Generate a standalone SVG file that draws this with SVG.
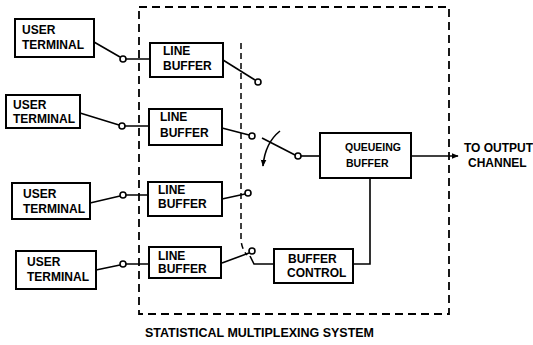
<svg xmlns="http://www.w3.org/2000/svg" width="533" height="345" viewBox="0 0 533 345">
<defs>
<style>
.box{fill:#fff;stroke:#000;stroke-width:2}
.ln{fill:none;stroke:#000;stroke-width:1.6}
.sw{fill:#fff;stroke:#000;stroke-width:1.6}
.dash{fill:none;stroke:#000;stroke-width:1.8;stroke-dasharray:8 5}
.dash2{fill:none;stroke:#000;stroke-width:1.5;stroke-dasharray:6 4}
text{font-family:"Liberation Sans",Arial,sans-serif;font-weight:bold;font-size:12px;fill:#000}
.sm{font-size:10.5px}
</style>
<marker id="ah" viewBox="0 0 10 10" refX="9" refY="5" markerWidth="7" markerHeight="7" orient="auto" markerUnits="userSpaceOnUse">
<path d="M0,1 L10,5 L0,9 Z" fill="#000"/>
</marker>
</defs>
<rect width="533" height="345" fill="#fff"/>
<g id="system-boundary">
<rect class="dash" x="139" y="7" width="310" height="307"/>
<path class="dash2" d="M241 43 L241 238 Q241 248 247 255"/>
<text x="145" y="337" textLength="229" lengthAdjust="spacingAndGlyphs" font-size="11">STATISTICAL MULTIPLEXING SYSTEM</text>
</g>
<g id="connectors">
<path class="ln" d="M94 42 L120 57 M126 59 L150 59"/>
<path class="ln" d="M80 113 L119 125 M125 126 L149 126"/>
<path class="ln" d="M90 203 L120 196 M126 195 L148 195"/>
<path class="ln" d="M96 270 L120 265 M126 264 L149 264"/>
<path class="ln" d="M223 60 L255 80"/>
<path class="ln" d="M222 128 L249 135"/>
<path class="ln" d="M222 199 L245 194"/>
<path class="ln" d="M222 263 L249 253"/>
<path class="ln" d="M295 155 L262 138"/>
<path class="ln" d="M301 156 L320 156"/>
<path class="ln" d="M280 131 Q265 143 263 166" marker-end="url(#ah)"/>
<path class="ln" d="M411 156 L458 156" marker-end="url(#ah)"/>
<path class="ln" d="M370 178 L370 264 L353 264"/>
<path class="ln" d="M250 256 L254 264 L274 264"/>
<circle class="sw" cx="123" cy="59" r="3"/>
<circle class="sw" cx="122" cy="126" r="3"/>
<circle class="sw" cx="123" cy="195" r="3"/>
<circle class="sw" cx="123" cy="264" r="3"/>
<circle class="sw" cx="258" cy="82" r="3"/>
<circle class="sw" cx="252" cy="136" r="3"/>
<circle class="sw" cx="248" cy="193" r="3"/>
<circle class="sw" cx="252" cy="251" r="3"/>
<circle class="sw" cx="298" cy="156" r="3"/>
</g>
<g id="user-terminal-1"><rect class="box" x="15" y="19" width="79" height="38"/><text x="22" y="34">USER</text><text x="22" y="49">TERMINAL</text></g>
<g id="user-terminal-2"><rect class="box" x="6" y="95" width="74" height="33"/><text x="13" y="109">USER</text><text x="13" y="123">TERMINAL</text></g>
<g id="user-terminal-3"><rect class="box" x="12" y="183" width="78" height="36"/><text x="23" y="198">USER</text><text x="23" y="213">TERMINAL</text></g>
<g id="user-terminal-4"><rect class="box" x="16" y="251" width="80" height="38"/><text x="27" y="266">USER</text><text x="27" y="281">TERMINAL</text></g>
<g id="line-buffer-1"><rect class="box" x="150" y="43" width="73" height="34"/><text x="163" y="55">LINE</text><text x="163" y="70">BUFFER</text></g>
<g id="line-buffer-2"><rect class="box" x="149" y="109" width="73" height="36"/><text x="160" y="121">LINE</text><text x="160" y="137">BUFFER</text></g>
<g id="line-buffer-3"><rect class="box" x="148" y="182" width="74" height="34"/><text x="158" y="194">LINE</text><text x="158" y="208">BUFFER</text></g>
<g id="line-buffer-4"><rect class="box" x="149" y="247" width="72" height="31"/><text x="158" y="260">LINE</text><text x="158" y="273">BUFFER</text></g>
<g id="queueing-buffer"><rect class="box" x="320" y="133" width="91" height="45"/><text class="sm" x="345" y="151">QUEUEING</text><text class="sm" x="346" y="167">BUFFER</text></g>
<g id="buffer-control"><rect class="box" x="274" y="249" width="79" height="34"/><text x="288" y="263">BUFFER</text><text x="287" y="277">CONTROL</text></g>
<g id="output-label"><text x="464" y="152" font-size="11">TO  OUTPUT</text><text x="468" y="167" font-size="11">CHANNEL</text></g>
</svg>
